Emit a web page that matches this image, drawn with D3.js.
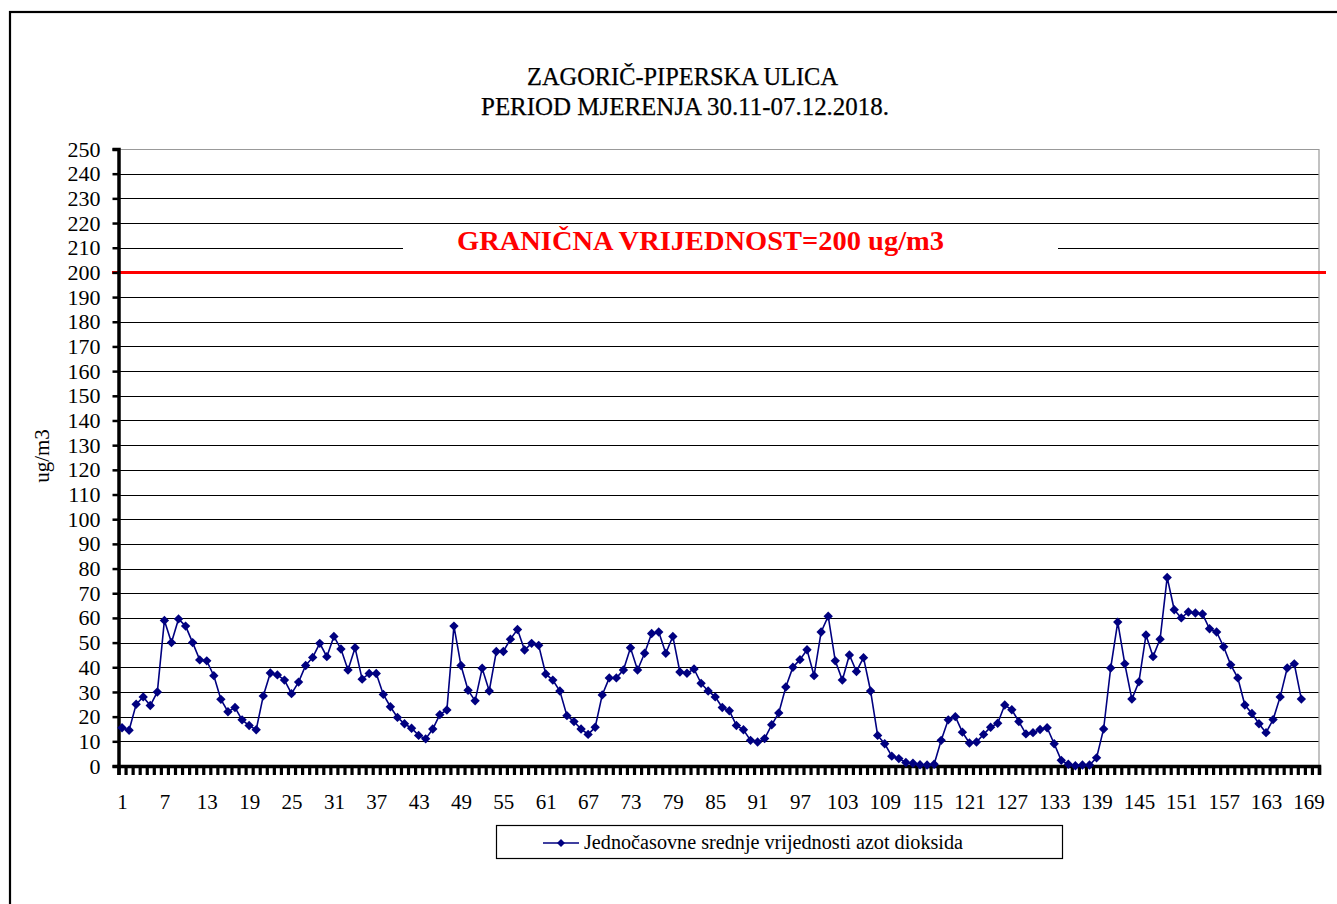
<!DOCTYPE html>
<html>
<head>
<meta charset="utf-8">
<script src="https://cdn.jsdelivr.net/npm/d3@7"></script>
<style>
  html, body { margin: 0; padding: 0; background: #fff; }
  svg { display: block; }
  text { font-family: "Liberation Serif", "Times New Roman", serif; }
</style>
</head>
<body>
<svg id="chart" width="1337" height="904"></svg>
<script>
const titleLines = ["ZAGORIČ-PIPERSKA ULICA", "PERIOD MJERENJA 30.11-07.12.2018."];
const yAxisTitle = "ug/m3";
const limitLabel = "GRANIČNA VRIJEDNOST=200 ug/m3";
const limitValue = 200;
const seriesName = "Jednočasovne srednje vrijednosti azot dioksida";
const categoryCount = 170;
const xTickLabels = d3.range(1, 170, 6);
const yTickValues = d3.range(0, 251, 10);
const no2Values = [
  15.5,14.5,25,28,24.5,30,59,50,59.6,56.7,
  50,43,42.6,36.6,27,22,23.7,18.7,16.4,14.7,
  28.4,37.7,36.9,34.8,29.3,34,40.7,44,49.7,44.3,
  52.5,47.4,38.9,47.9,35.2,37.5,37.5,29,24,19.7,
  17.1,15.3,12.4,11,15,20.8,22.7,56.7,40.7,30.7,
  26.4,39.6,30.4,46.4,46.4,51.4,55.3,47,49.7,48.9,
  37.3,34.8,30.4,20.4,18,15,12.8,15.7,28.8,35.7,
  35.7,38.9,47.9,38.9,45.7,53.7,54.3,45.7,52.5,38.1,
  37.6,39.3,33.5,30.4,28,23.7,22.4,16.4,14.7,10.4,
  9.7,11.1,16.7,21.5,32,40,43.1,47.1,36.6,54.3,
  60.7,42.6,34.8,45,38.3,43.9,30.4,12.4,9,4,
  3,1.4,1.1,0.5,0.4,0.7,10.4,18.7,20,13.7,
  9.3,9.7,12.8,15.7,17.3,24.7,22.8,18,13,13.5,
  14.8,15.5,9,2.3,0.7,0.1,0.4,0.4,3.3,15,
  39.7,58.3,41.4,27.1,34.1,53.1,44.3,51.4,76.4,63.3,
  60,62.4,62,61.6,55.6,54.3,48.3,41,35.7,24.7,
  21.3,17.1,13.5,18.8,28,39.7,41.4,27.1
];
const hours = no2Values.map((v, i) => i + 1);

const svg = d3.select("#chart");
const L = 118.5, R = 1319, T = 149, B = 766;

const x = d3.scaleLinear().domain([0.5, categoryCount + 0.5]).range([L, R]);
const y = d3.scaleLinear().domain([0, 250]).range([B, T]);

// outer chart border
svg.append("rect").attr("x", 10).attr("y", 12).attr("width", 1340).attr("height", 900)
  .attr("fill", "none").attr("stroke", "#000").attr("stroke-width", 2.2);

// titles
svg.append("text").attr("x", 682.5).attr("y", 85).attr("text-anchor", "middle")
  .attr("font-size", 24.5).attr("stroke", "#000").attr("stroke-width", 0.25)
  .attr("textLength", 311).attr("lengthAdjust", "spacingAndGlyphs").text(titleLines[0]);
svg.append("text").attr("x", 685).attr("y", 115).attr("text-anchor", "middle")
  .attr("font-size", 24.5).attr("stroke", "#000").attr("stroke-width", 0.25)
  .attr("textLength", 408).attr("lengthAdjust", "spacingAndGlyphs").text(titleLines[1]);

// gridlines
svg.append("g").selectAll("line").data(yTickValues.filter(v => v > 0 && v < 250)).join("line")
  .attr("x1", L).attr("x2", R).attr("y1", d => Math.round(y(d)) + 0.5).attr("y2", d => Math.round(y(d)) + 0.5)
  .attr("stroke", "#000").attr("stroke-width", 1);
// plot area border top/right
svg.append("line").attr("x1", L).attr("x2", R).attr("y1", Math.round(y(250)) + 0.5).attr("y2", Math.round(y(250)) + 0.5)
  .attr("stroke", "#999").attr("stroke-width", 1.2);
svg.append("line").attr("x1", R).attr("x2", R).attr("y1", y(250)).attr("y2", B)
  .attr("stroke", "#999").attr("stroke-width", 1.2);

// limit label box (covers gridline)
svg.append("rect").attr("x", 403).attr("y", 228).attr("width", 655).attr("height", 34).attr("fill", "#fff");
svg.append("text").attr("x", 700.5).attr("y", 250).attr("text-anchor", "middle")
  .attr("font-size", 28).attr("font-weight", "bold").attr("fill", "#ff0000")
  .attr("textLength", 487).attr("lengthAdjust", "spacingAndGlyphs").text(limitLabel);

// limit line
svg.append("line").attr("x1", 112).attr("x2", 1326).attr("y1", y(limitValue)).attr("y2", y(limitValue))
  .attr("stroke", "#ff0000").attr("stroke-width", 3);

// y axis
const yAxis = svg.append("g").attr("transform", `translate(${L},0)`)
  .call(d3.axisLeft(y).tickValues(yTickValues).tickSize(6).tickPadding(12).tickFormat(d3.format("d")));
yAxis.select(".domain").attr("stroke", "#000").attr("stroke-width", 3.5);
yAxis.selectAll(".tick line").attr("stroke", "#000").attr("stroke-width", 2.5);
yAxis.selectAll(".tick text").attr("font-size", 22).attr("fill", "#000")
  .style("font-family", "'Liberation Serif', serif");

// x axis ticks (category boundaries)
const xTicksAxis = svg.append("g").attr("transform", `translate(0,${B})`)
  .call(d3.axisBottom(x).tickValues(d3.range(0, categoryCount + 1).map(i => i + 0.5)).tickSize(9).tickFormat(""));
xTicksAxis.select(".domain").attr("stroke", "#000").attr("stroke-width", 3.5);
xTicksAxis.selectAll(".tick line").attr("stroke", "#000").attr("stroke-width", 3.2);

// x axis labels
const xLabels = svg.append("g").attr("transform", `translate(0,${B})`)
  .call(d3.axisBottom(x).tickValues(xTickLabels).tickSize(0).tickPadding(28).tickFormat(d3.format("d")));
xLabels.select(".domain").remove();
xLabels.selectAll(".tick text").attr("font-size", 21).attr("fill", "#000")
  .style("font-family", "'Liberation Serif', serif");

// y axis title
svg.append("text").attr("transform", "translate(49,456) rotate(-90)").attr("text-anchor", "middle")
  .attr("font-size", 21).text(yAxisTitle);

// series line
const navy = "#000080";
const line = d3.line().x((d, i) => x(hours[i])).y(d => y(d));
svg.append("path").datum(no2Values).attr("d", line)
  .attr("fill", "none").attr("stroke", navy).attr("stroke-width", 1.6);

// markers
const diamond = d3.symbol().type(d3.symbolDiamond2).size(56);
svg.append("g").selectAll("path").data(no2Values).join("path")
  .attr("d", diamond)
  .attr("transform", (d, i) => `translate(${x(hours[i])},${y(d)})`)
  .attr("fill", navy);

// legend
const lg = svg.append("g");
lg.append("rect").attr("x", 496.5).attr("y", 825.5).attr("width", 566).attr("height", 33)
  .attr("fill", "#fff").attr("stroke", "#000").attr("stroke-width", 1.2);
lg.append("line").attr("x1", 543).attr("x2", 579).attr("y1", 843).attr("y2", 843)
  .attr("stroke", navy).attr("stroke-width", 1.6);
lg.append("path").attr("d", d3.symbol().type(d3.symbolDiamond2).size(40)).attr("transform", "translate(561,843)").attr("fill", navy);
lg.append("text").attr("x", 584).attr("y", 849).attr("font-size", 20)
  .attr("textLength", 379).attr("lengthAdjust", "spacingAndGlyphs").text(seriesName);
</script>
</body>
</html>
